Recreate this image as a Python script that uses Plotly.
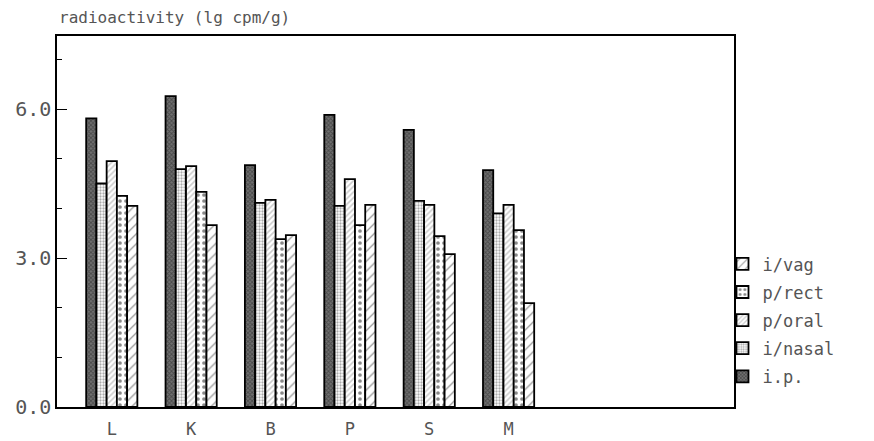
import plotly.graph_objects as go

categories = ["L", "K", "B", "P", "S", "M"]
series_names = ["i.p.", "i/nasal", "p/oral", "p/rect", "i/vag"]
ip_vals = [5.81, 6.26, 4.87, 5.88, 5.58, 4.77]
nasal_vals = [4.50, 4.79, 4.11, 4.05, 4.15, 3.90]
oral_vals = [4.95, 4.85, 4.17, 4.59, 4.07, 4.07]
rect_vals = [4.25, 4.33, 3.38, 3.66, 3.44, 3.56]
vag_vals = [4.05, 3.66, 3.46, 4.07, 3.08, 2.09]
y_tick_vals = [0, 3, 6]
y_tick_text = ["0.0", "3.0", "6.0"]

series_values = [ip_vals, nasal_vals, oral_vals, rect_vals, vag_vals]
styles = [
    dict(bgcolor="#707070", shape="x", fgcolor="#222222", size=3, solidity=0.5),
    dict(bgcolor="white", shape=".", fgcolor="#555555", size=3, solidity=0.45),
    dict(bgcolor="white", shape="/", fgcolor="#9a9a9a", size=4, solidity=0.4),
    dict(bgcolor="white", shape=".", fgcolor="#111111", size=6, solidity=0.3),
    dict(bgcolor="white", shape="/", fgcolor="#333333", size=7, solidity=0.18),
]

font_family = "DejaVu Sans Mono"
grey = "#555555"

fig = go.Figure()
n = len(series_names)
for i, (name, vals, st) in enumerate(zip(series_names, series_values, styles)):
    fig.add_trace(go.Bar(
        x=categories, y=vals, name=name, legendgroup=name,
        legendrank=n - i,
        marker=dict(
            color=st["bgcolor"],
            line=dict(color="black", width=1.8),
            pattern=dict(shape=st["shape"], fgcolor=st["fgcolor"],
                         bgcolor=st["bgcolor"], size=st["size"],
                         solidity=st["solidity"], fillmode="overlay"),
        ),
    ))

fig.update_layout(
    width=866, height=433,
    margin=dict(l=49, r=140, t=28, b=34),
    paper_bgcolor="white", plot_bgcolor="white",
    barmode="group", bargap=0.355, bargroupgap=0,
    font=dict(family=font_family, color=grey, size=16),
    showlegend=True,
    legend=dict(
        traceorder="grouped",
        x=0.983, xanchor="left", y=0.433, yanchor="top",
        font=dict(family=font_family, size=17, color=grey),
        bgcolor="rgba(0,0,0,0)", borderwidth=0,
        itemwidth=30, tracegroupgap=3,
    ),
    annotations=[dict(
        text="radioactivity (lg cpm/g)", xref="paper", yref="paper",
        x=0, y=1, xanchor="left", yanchor="bottom", yshift=7,
        showarrow=False, font=dict(family=font_family, size=16, color=grey),
    )],
)

fig.update_xaxes(
    type="category", range=[-0.69, 7.84], automargin=False,
    showline=True, linecolor="black", linewidth=1.5, mirror=True,
    ticks="", showgrid=False, zeroline=False, ticklabelstandoff=6,
    tickfont=dict(family=font_family, size=17, color=grey),
)
fig.update_yaxes(
    range=[0, 7.47], automargin=False,
    tickvals=y_tick_vals, ticktext=y_tick_text,
    ticks="inside", ticklen=10, tickcolor="black", tickwidth=1,
    minor=dict(dtick=1, tick0=0, ticks="inside", ticklen=5, tickcolor="black"),
    showline=True, linecolor="black", linewidth=1.5, mirror=True,
    showgrid=False, zeroline=False,
    tickfont=dict(family=font_family, size=20, color=grey),
)

fig.write_html("out.html")
